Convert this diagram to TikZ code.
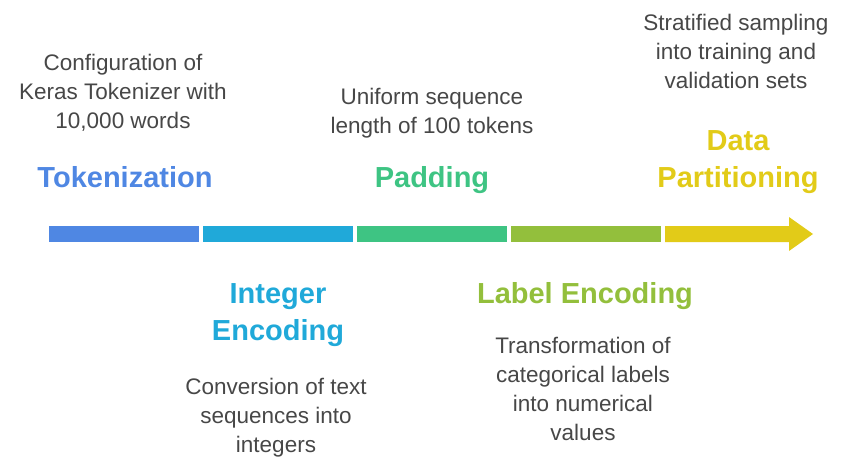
\documentclass[tikz,border=0pt]{standalone}
\usepackage{fontspec}
\setmainfont{Liberation Sans}
\usepackage{tikz}
\usetikzlibrary{positioning}
\definecolor{tokblue}{HTML}{4F87E3}
\definecolor{intcyan}{HTML}{20A9D9}
\definecolor{padgreen}{HTML}{3EC483}
\definecolor{labolive}{HTML}{93BF3C}
\definecolor{partyellow}{HTML}{E2CB18}
\definecolor{descgray}{HTML}{474747}

\begin{document}
\begin{tikzpicture}
[x=1pt, y=-1pt,
 seg/.style={rectangle, inner sep=0pt, minimum width=150pt, minimum height=16pt},
 title/.style={font=\fontsize{29}{37}\selectfont\bfseries, align=center, inner sep=0pt},
 desc/.style={font=\fontsize{22.5}{29}\selectfont, text=descgray, align=center, inner sep=0pt}]

\useasboundingbox (0,0) rectangle (841,458);

% bar segments
\node[seg, fill=tokblue] (s1) at (124,234) {};
\node[seg, fill=intcyan] (s2) at (278,234) {};
\node[seg, fill=padgreen] (s3) at (432,234) {};
\node[seg, fill=labolive] (s4) at (586,234) {};
\coordinate (a1) at (665,226);
\coordinate (a2) at (789,226);
\coordinate (a3) at (789,217);
\coordinate (tip) at (813,234);
\coordinate (a4) at (789,251);
\coordinate (a5) at (789,242);
\coordinate (a6) at (665,242);
\fill[partyellow] (a1) -- (a2) -- (a3) -- (tip) -- (a4) -- (a5) -- (a6) -- cycle;

% steps above the bar
\node[title, text=tokblue] (tok) at (125,177) {Tokenization};
\node[desc] (tokd) at (123,93) {Configuration of\\Keras Tokenizer with\\10,000 words};
\node[title, text=padgreen] (pad) at (432,180) {Padding};
\node[desc] (padd) at (432,113) {Uniform sequence\\length of 100 tokens};
\node[title, text=partyellow] (part) at (738,162) {Data\\Partitioning};
\node[desc] (partd) at (736,51) {Stratified sampling\\into training and\\validation sets};

% steps below the bar
\node[title, text=intcyan] (intg) at (278,315) {Integer\\Encoding};
\node[desc] (intgd) at (276,418) {Conversion of text\\sequences into\\integers};
\node[title, text=labolive] (lab) at (585,296) {Label Encoding};
\node[desc] (labd) at (583,389) {Transformation of\\categorical labels\\into numerical\\values};

\end{tikzpicture}
\end{document}
